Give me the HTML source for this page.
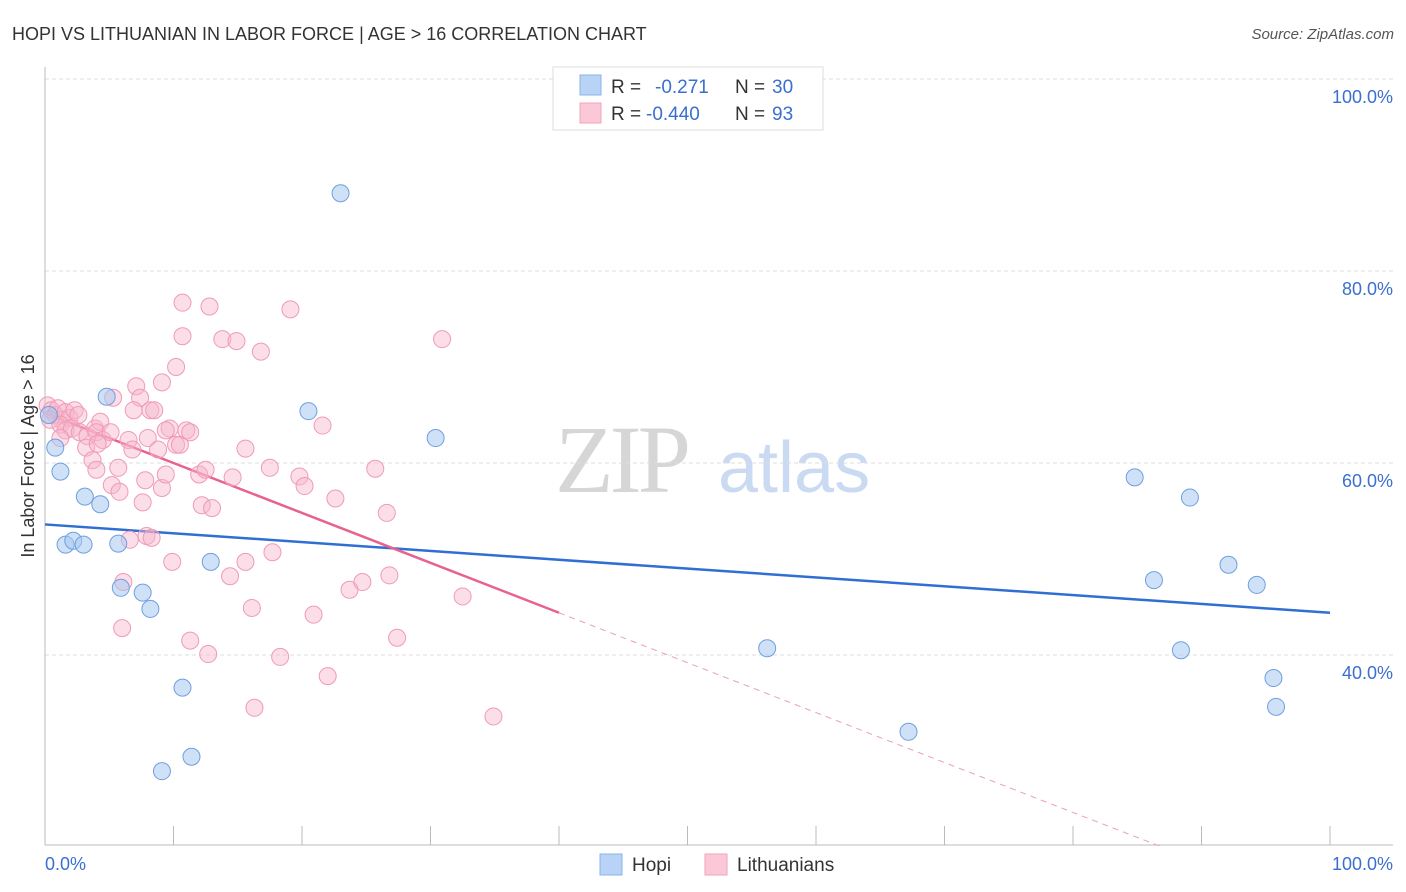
<!DOCTYPE html>
<html><head><meta charset="utf-8"><style>
body{margin:0;background:#fff;font-family:"Liberation Sans",sans-serif;}
svg{display:block}
</style></head><body>
<svg id="chart" width="1406" height="892" xmlns="http://www.w3.org/2000/svg" font-family="Liberation Sans, sans-serif">
<text x="12" y="40" font-size="18" fill="#333">HOPI VS LITHUANIAN IN LABOR FORCE | AGE &gt; 16 CORRELATION CHART</text>
<text x="1394" y="39" font-size="15" fill="#555" text-anchor="end" font-style="italic">Source: ZipAtlas.com</text>
<g>
<text x="555" y="492" font-size="96" font-family="Liberation Serif, serif" fill="#d6d6d6" letter-spacing="-4">ZIP</text>
<text x="718" y="492" font-size="72" fill="#c9daf2">atlas</text>
</g>
<g id="grid"></g>
<g id="axes"></g>
<g id="lines"></g>
<g id="points"></g>
<g>
<rect x="553" y="67" width="270" height="63" fill="#fff" stroke="#ddd"/>
<rect x="580" y="75" width="21" height="20" fill="#b8d3f5" stroke="#8ab3e8"/>
<rect x="580" y="103" width="21" height="20" fill="#fac8d7" stroke="#f0a3bb"/>
<text x="611" y="93" font-size="19" fill="#333">R = </text>
<text x="655" y="93" font-size="19" fill="#3a6fd0">-0.271</text>
<text x="735" y="93" font-size="19" fill="#333">N = </text>
<text x="772" y="93" font-size="19" fill="#3a6fd0">30</text>
<text x="611" y="120" font-size="19" fill="#333">R = </text>
<text x="646" y="120" font-size="19" fill="#3a6fd0">-0.440</text>
<text x="735" y="120" font-size="19" fill="#333">N = </text>
<text x="772" y="120" font-size="19" fill="#3a6fd0">93</text>
</g>
<g>
<rect x="600" y="854" width="22" height="21" fill="#b8d3f5" stroke="#8ab3e8"/>
<text x="632" y="871" font-size="19" fill="#333">Hopi</text>
<rect x="705" y="854" width="22" height="21" fill="#fac8d7" stroke="#f0a3bb"/>
<text x="737" y="871" font-size="19" fill="#333">Lithuanians</text>
</g>
<text transform="translate(34,456) rotate(-90)" font-size="18" fill="#333" text-anchor="middle">In Labor Force | Age &gt; 16</text>
<text x="45" y="870" font-size="18" fill="#3a6fd0">0.0%</text>
<text x="1393" y="870" font-size="18" fill="#3a6fd0" text-anchor="end">100.0%</text>
</svg>
<script>
const yTicks=[100,80,60,40];
const yTickLabels=["100.0%","80.0%","60.0%","40.0%"];
const hopiX=[23.0,4.8,20.5,30.4,0.8,1.2,3.1,4.3,1.6,2.2,3.0,5.7,12.9,5.9,7.6,8.2,10.7,9.1,11.4,56.2,67.2,84.8,89.1,86.3,92.1,94.3,88.4,95.6,95.8,0.3];
const hopiY=[88.1,66.9,65.4,62.6,61.6,59.1,56.5,55.7,51.5,51.9,51.5,51.6,49.7,47.0,46.5,44.8,36.6,27.9,29.4,40.7,32.0,58.5,56.4,47.8,49.4,47.3,40.5,37.6,34.6,65.0];
const lithX=[0.2,0.5,0.8,1.0,1.3,1.6,1.9,2.3,2.6,0.4,1.2,1.6,2.1,2.7,3.3,3.9,4.3,3.2,3.7,4.0,4.5,5.1,5.7,5.2,5.8,6.5,6.8,7.1,7.4,6.9,8.2,8.5,8.0,8.8,9.1,9.4,9.7,10.2,10.5,11.0,11.3,10.2,9.1,10.7,10.7,12.8,13.8,14.9,16.8,19.1,30.9,12.0,12.5,12.2,13.0,14.6,15.6,17.5,19.8,20.2,22.6,21.6,25.7,26.6,7.6,6.6,7.9,8.3,9.9,6.1,6.0,11.3,12.7,14.4,15.6,17.7,16.1,16.3,18.3,20.9,22.0,23.7,24.7,26.8,27.4,32.5,34.9,5.3,4.0,7.8,9.4,4.1,1.2];
const lithY=[66.0,65.5,65.0,65.7,64.5,65.3,64.7,65.5,65.0,64.5,64.0,63.4,63.6,63.2,62.8,63.6,64.3,61.6,60.3,63.2,62.4,63.2,59.5,57.7,57.0,62.4,61.4,68.0,66.8,65.5,65.5,65.5,62.6,61.4,57.4,58.8,63.6,61.9,61.9,63.4,63.2,70.0,68.4,76.7,73.2,76.3,72.9,72.7,71.6,76.0,72.9,58.8,59.3,55.6,55.3,58.5,61.5,59.5,58.6,57.6,56.3,63.9,59.4,54.8,55.9,52.0,52.4,52.2,49.7,47.6,42.8,41.5,40.1,48.2,49.7,50.7,44.9,34.5,39.8,44.2,37.8,46.8,47.6,48.3,41.8,46.1,33.6,66.8,59.3,58.2,63.4,62.0,62.6];
const hopiTrend=[53.6,44.4];
const lithTrend=[65.2,-0.52];

const NS="http://www.w3.org/2000/svg";
const X0=45,X1=1330;
const sx=v=>X0+(X1-X0)*v/100;
const sy=v=>79+(100-v)*9.6;
function mk(tag,attrs,parent){const e=document.createElementNS(NS,tag);for(const k in attrs)e.setAttribute(k,attrs[k]);parent.appendChild(e);return e;}
const grid=document.getElementById('grid'),axes=document.getElementById('axes'),lines=document.getElementById('lines'),pts=document.getElementById('points');
yTicks.forEach((t,i)=>{
  const l=mk('line',{x1:45,x2:1393,y1:sy(t),y2:sy(t),stroke:'#ddd','stroke-dasharray':'4,3'},grid);
  
  
  const tx=mk('text',{x:1393,y:sy(t)+24,'font-size':18,fill:'#3a6fd0','text-anchor':'end'},grid);
  tx.textContent=yTickLabels[i];
  
  
});
mk('line',{x1:45,x2:45,y1:67,y2:845,stroke:'#bbb'},axes);
mk('line',{x1:45,x2:1393,y1:845,y2:845,stroke:'#bbb'},axes);
for(let i=0;i<=10;i++){
  const t=mk('line',{x1:sx(i*10),x2:sx(i*10),y1:826,y2:845,stroke:'#bbb'},axes);
  
  
}
const hl=mk('line',{x1:sx(0),y1:sy(hopiTrend[0]),x2:sx(100),y2:sy(hopiTrend[1]),stroke:'#2f6fd3','stroke-width':2.5},lines);


const lf=v=>lithTrend[0]+lithTrend[1]*v;
const ll=mk('line',{x1:sx(0),y1:sy(lf(0)),x2:sx(40),y2:sy(lf(40)),stroke:'#e8628f','stroke-width':2.5},lines);


const ld=mk('line',{x1:sx(40),y1:sy(lf(40)),x2:sx(87),y2:sy(lf(87)),stroke:'#e8a0b8','stroke-width':1,'stroke-dasharray':'6,5'},lines);


lithX.forEach((v,i)=>{
  const c=mk('circle',{cx:sx(v),cy:sy(lithY[i]),r:8.5,fill:'rgba(247,182,203,0.45)',stroke:'#f09ab6','stroke-width':1},pts);
  
  
});
hopiX.forEach((v,i)=>{
  const c=mk('circle',{cx:sx(v),cy:sy(hopiY[i]),r:8.5,fill:'rgba(168,200,240,0.55)',stroke:'#6f9fe0','stroke-width':1},pts);
  
  
});
</script>
</body></html>
